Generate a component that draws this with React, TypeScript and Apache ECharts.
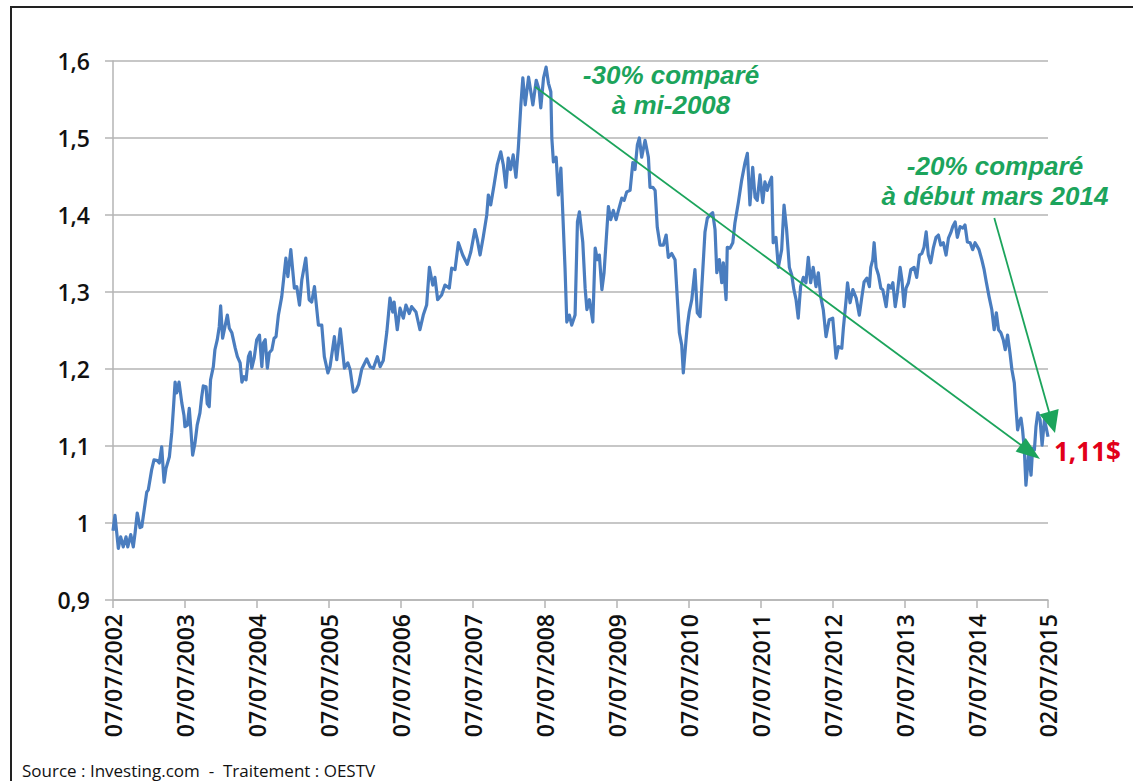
import React, { useEffect, useRef } from "react";
import * as echarts from "echarts";

// Weekly-ish EUR/USD readings, 07/07/2002 – 02/07/2015
const dates = [
  "2002-07-07","2002-07-17","2002-08-03","2002-08-15","2002-08-28","2002-09-11","2002-09-20","2002-10-05","2002-10-18","2002-10-27",
  "2002-11-07","2002-11-21","2002-11-30","2002-12-25","2003-01-02","2003-01-19","2003-01-31","2003-02-17","2003-02-27","2003-03-11",
  "2003-03-23","2003-04-02","2003-04-19","2003-05-01","2003-05-09","2003-05-18","2003-05-26","2003-06-07","2003-06-21","2003-07-02",
  "2003-07-07","2003-07-19","2003-07-29","2003-08-05","2003-08-15","2003-08-27","2003-09-07","2003-09-21","2003-09-30","2003-10-08",
  "2003-10-22","2003-10-28","2003-11-07","2003-11-14","2003-11-28","2003-12-06","2003-12-18","2003-12-28","2004-01-04","2004-01-14",
  "2004-01-26","2004-02-07","2004-02-17","2004-03-01","2004-03-18","2004-03-29","2004-04-12","2004-04-21","2004-05-02","2004-05-12",
  "2004-05-24","2004-06-02","2004-06-10","2004-06-22","2004-07-05","2004-07-19","2004-07-31","2004-08-08","2004-08-17","2004-08-28",
  "2004-09-07","2004-09-20","2004-10-01","2004-10-11","2004-10-23","2004-11-09","2004-11-30","2004-12-10","2004-12-25","2005-01-12",
  "2005-01-24","2005-02-07","2005-02-19","2005-03-11","2005-03-28","2005-04-10","2005-04-24","2005-05-14","2005-05-31","2005-06-13",
  "2005-07-01","2005-07-12","2005-08-03","2005-08-15","2005-09-02","2005-09-23","2005-10-10","2005-10-22","2005-11-07","2005-11-21",
  "2005-12-04","2005-12-20","2006-01-14","2006-01-31","2006-02-17","2006-03-09","2006-03-23","2006-04-08","2006-04-26","2006-05-12",
  "2006-05-26","2006-06-02","2006-06-18","2006-07-02","2006-07-19","2006-08-01","2006-08-18","2006-08-30","2006-09-21","2006-10-11",
  "2006-10-28","2006-11-14","2006-11-28","2006-12-15","2006-12-26","2007-01-09","2007-01-29","2007-02-15","2007-03-09","2007-03-21",
  "2007-04-07","2007-04-24","2007-05-16","2007-06-08","2007-06-26","2007-07-17","2007-07-29","2007-08-12","2007-08-28","2007-09-15",
  "2007-09-23","2007-10-05","2007-10-22","2007-11-07","2007-11-25","2007-12-08","2007-12-21","2008-01-02","2008-01-14","2008-01-27",
  "2008-02-10","2008-02-22","2008-03-06","2008-03-16","2008-03-28","2008-04-14","2008-05-06","2008-05-23","2008-06-07","2008-06-15",
  "2008-06-29","2008-07-12","2008-07-24","2008-08-05","2008-08-10","2008-08-18","2008-09-01","2008-09-12","2008-09-25","2008-10-05",
  "2008-10-16","2008-10-25","2008-11-07","2008-11-19","2008-12-06","2008-12-18","2008-12-28","2009-01-14","2009-01-26","2009-02-04",
  "2009-02-17","2009-03-06","2009-03-18","2009-03-29","2009-04-08","2009-04-21","2009-05-02","2009-05-12","2009-05-24","2009-06-05",
  "2009-06-18","2009-07-02","2009-07-14","2009-07-31","2009-08-12","2009-08-25","2009-09-11","2009-09-25","2009-10-06","2009-10-18",
  "2009-10-28","2009-11-09","2009-11-26","2009-12-13","2009-12-21","2010-01-04","2010-01-16","2010-01-27","2010-02-10","2010-02-27",
  "2010-03-13","2010-03-24","2010-04-10","2010-04-27","2010-05-09","2010-05-19","2010-05-31","2010-06-08","2010-06-22","2010-06-28",
  "2010-07-08","2010-07-21","2010-08-06","2010-08-18","2010-09-01","2010-09-15","2010-09-26","2010-10-08","2010-10-22","2010-11-04",
  "2010-11-16","2010-11-25","2010-12-08","2010-12-20","2010-12-28","2011-01-11","2011-01-17","2011-01-31","2011-02-14","2011-02-25",
  "2011-03-14","2011-03-31","2011-04-17","2011-04-29","2011-05-12","2011-05-26","2011-06-07","2011-06-18","2011-07-02","2011-07-16",
  "2011-07-27","2011-08-08","2011-08-18","2011-08-30","2011-09-07","2011-09-21","2011-10-03","2011-10-20","2011-11-01","2011-11-14",
  "2011-11-28","2011-12-10","2011-12-21","2012-01-01","2012-01-12","2012-01-24","2012-02-07","2012-02-20","2012-03-03","2012-03-15",
  "2012-03-28","2012-04-11","2012-04-23","2012-05-05","2012-05-18","2012-06-01","2012-06-17","2012-07-05","2012-07-22","2012-08-03",
  "2012-08-20","2012-08-28","2012-09-11","2012-09-18","2012-10-01","2012-10-15","2012-11-01","2012-11-17","2012-11-30","2012-12-11",
  "2012-12-25","2013-01-07","2013-01-14","2013-01-24","2013-01-31","2013-02-10","2013-02-22","2013-03-06","2013-03-16","2013-04-02",
  "2013-04-14","2013-04-26","2013-05-06","2013-05-18","2013-05-29","2013-06-12","2013-06-21","2013-07-02","2013-07-12","2013-07-24",
  "2013-08-05","2013-08-22","2013-09-04","2013-09-18","2013-09-30","2013-10-11","2013-10-22","2013-11-02","2013-11-14","2013-11-28",
  "2013-12-11","2013-12-23","2014-01-04","2014-01-17","2014-01-31","2014-02-12","2014-02-24","2014-03-06","2014-03-18","2014-03-29",
  "2014-04-12","2014-04-26","2014-05-07","2014-05-19","2014-06-02","2014-06-15","2014-06-27","2014-07-04","2014-07-17","2014-07-31",
  "2014-08-12","2014-08-23","2014-09-06","2014-09-20","2014-10-02","2014-10-13","2014-10-24","2014-11-05","2014-11-17","2014-11-27",
  "2014-12-09","2014-12-21","2014-12-31","2015-01-12","2015-01-20","2015-01-29","2015-02-06","2015-02-15","2015-02-23","2015-03-04",
  "2015-03-12","2015-03-26","2015-04-07","2015-04-15","2015-04-24","2015-05-02","2015-05-11","2015-05-23","2015-06-02","2015-06-14",
  "2015-06-22","2015-07-02"
];

const eurUsd = [
  0.99,1.01,0.967,0.982,0.969,0.982,0.969,0.985,0.969,0.987,
  1.013,0.994,0.995,1.04,1.043,1.069,1.082,1.081,1.078,1.099,
  1.053,1.071,1.086,1.117,1.147,1.183,1.169,1.183,1.156,1.14,
  1.125,1.127,1.149,1.125,1.088,1.104,1.127,1.143,1.164,1.178,
  1.177,1.155,1.151,1.186,1.203,1.225,1.238,1.255,1.282,1.24,
  1.255,1.27,1.253,1.247,1.227,1.216,1.208,1.183,1.19,1.186,
  1.216,1.222,1.201,1.214,1.238,1.244,1.203,1.234,1.238,1.201,
  1.221,1.225,1.24,1.242,1.27,1.294,1.344,1.32,1.355,1.305,
  1.307,1.283,1.316,1.344,1.29,1.287,1.307,1.257,1.257,1.216,
  1.195,1.203,1.242,1.212,1.252,1.201,1.208,1.199,1.17,1.172,
  1.18,1.2,1.213,1.203,1.201,1.216,1.203,1.211,1.248,1.292,
  1.274,1.287,1.251,1.279,1.266,1.283,1.272,1.281,1.274,1.251,
  1.27,1.283,1.332,1.309,1.319,1.29,1.296,1.309,1.305,1.331,
  1.329,1.364,1.348,1.336,1.352,1.381,1.368,1.348,1.371,1.4,
  1.426,1.413,1.439,1.465,1.482,1.465,1.436,1.474,1.459,1.478,
  1.449,1.487,1.543,1.578,1.543,1.579,1.543,1.575,1.562,1.539,
  1.578,1.592,1.571,1.56,1.5,1.469,1.475,1.426,1.461,1.4,
  1.331,1.261,1.27,1.257,1.27,1.391,1.404,1.365,1.305,1.277,
  1.29,1.261,1.357,1.342,1.348,1.303,1.325,1.364,1.411,1.394,
  1.406,1.394,1.406,1.422,1.419,1.43,1.432,1.468,1.459,1.491,
  1.5,1.475,1.497,1.475,1.436,1.436,1.432,1.384,1.361,1.361,
  1.374,1.345,1.35,1.342,1.29,1.247,1.231,1.195,1.238,1.255,
  1.274,1.29,1.329,1.273,1.268,1.329,1.378,1.396,1.4,1.403,
  1.381,1.325,1.342,1.312,1.338,1.29,1.358,1.357,1.364,1.39,
  1.416,1.445,1.468,1.48,1.413,1.462,1.423,1.419,1.452,1.416,
  1.443,1.432,1.441,1.449,1.364,1.371,1.332,1.355,1.413,1.381,
  1.332,1.322,1.303,1.29,1.266,1.307,1.319,1.312,1.345,1.312,
  1.332,1.307,1.325,1.294,1.277,1.242,1.264,1.266,1.214,1.229,
  1.227,1.253,1.29,1.312,1.286,1.303,1.292,1.27,1.294,1.313,
  1.318,1.307,1.332,1.342,1.364,1.332,1.322,1.305,1.303,1.281,
  1.309,1.305,1.312,1.281,1.299,1.332,1.316,1.281,1.305,1.312,
  1.329,1.332,1.319,1.348,1.35,1.358,1.378,1.348,1.338,1.358,
  1.371,1.374,1.361,1.364,1.348,1.37,1.377,1.385,1.391,1.371,
  1.385,1.383,1.387,1.365,1.364,1.355,1.364,1.361,1.355,1.342,
  1.329,1.313,1.294,1.277,1.251,1.273,1.251,1.247,1.238,1.225,
  1.244,1.221,1.199,1.182,1.151,1.121,1.131,1.136,1.121,1.095,
  1.049,1.091,1.062,1.097,1.095,1.125,1.143,1.134,1.101,1.134,
  1.125,1.112
];

const tickDates = [
  "2002-07-07","2003-07-07","2004-07-07","2005-07-07","2006-07-07","2007-07-07","2008-07-07",
  "2009-07-07","2010-07-07","2011-07-07","2012-07-07","2013-07-07","2014-07-07","2015-07-02"
];

const yMin = 0.9;
const yMax = 1.6;
const yStep = 0.1;

const note1Lines = ["-30% comparé", "à mi-2008"];
const note2Lines = ["-20% comparé", "à début mars 2014"];
const lastLabel = "1,11$";
const sourceText = "Source : Investing.com  -  Traitement : OESTV";

const BLUE = "#4a7dbf";
const GREEN = "#1ca45c";
const GRID = "#b4b4b4";
const FONT = "'Open Sans', 'Noto Sans', sans-serif";
const NOTE_FONT = "'Liberation Sans', Arial, sans-serif";

function toTs(s: string): number {
  const [y, m, d] = s.split("-").map(Number);
  return Date.UTC(y, m - 1, d);
}

function pad(n: number) {
  return n < 10 ? "0" + n : "" + n;
}

function arrow(x1: number, y1: number, x2: number, y2: number, len: number, w: number) {
  const dx = x2 - x1;
  const dy = y2 - y1;
  const L = Math.sqrt(dx * dx + dy * dy);
  const ux = dx / L;
  const uy = dy / L;
  const bx = x2 - ux * len;
  const by = y2 - uy * len;
  const px = -uy * (w / 2);
  const py = ux * (w / 2);
  return [
    {
      type: "line",
      shape: { x1, y1, x2: bx + ux * 2, y2: by + uy * 2 },
      style: { stroke: GREEN, lineWidth: 1.8 },
      z: 10,
    },
    {
      type: "polygon",
      shape: {
        points: [
          [x2, y2],
          [bx + px, by + py],
          [bx - px, by - py],
        ],
      },
      style: { fill: GREEN },
      z: 10,
    },
  ];
}

function noteText(text: string, x: number, y: number, size: number) {
  return {
    type: "text",
    x,
    y,
    style: {
      text,
      fill: GREEN,
      font: "italic bold " + size + "px " + NOTE_FONT,
      align: "center",
      verticalAlign: "middle",
    },
    z: 11,
  };
}

export default function App() {
  const ref = useRef<HTMLDivElement>(null);

  useEffect(() => {
    if (!ref.current) return;
    const chart = echarts.init(ref.current, null, { renderer: "svg" });
    const seriesData = dates.map((d, i) => [toTs(d), eurUsd[i]]);
    const ticks = tickDates.map(toTs);

    chart.setOption({
      animation: false,
      backgroundColor: "#ffffff",
      grid: { left: 113, right: 85, top: 61, bottom: 181, containLabel: false },
      xAxis: {
        type: "value",
        min: ticks[0],
        max: ticks[ticks.length - 1],
        scale: true,
        axisLine: { show: true, lineStyle: { color: GRID, width: 1.5 } },
        axisTick: { show: true, length: 8, customValues: ticks, lineStyle: { color: GRID, width: 1.5 } },
        splitLine: { show: false },
        minorTick: { show: false },
        axisLabel: {
          customValues: ticks,
          rotate: 90,
          margin: 14,
          fontFamily: FONT,
          fontSize: 23,
          fontWeight: 600,
          color: "#111111",
          formatter: (v: number) => {
            const d = new Date(v);
            return pad(d.getUTCDate()) + "/" + pad(d.getUTCMonth() + 1) + "/" + d.getUTCFullYear();
          },
        },
      },
      yAxis: {
        type: "value",
        min: yMin,
        max: yMax,
        interval: yStep,
        axisLine: { show: true, lineStyle: { color: GRID, width: 1.5 } },
        axisTick: { show: true, length: 8, lineStyle: { color: GRID, width: 1.5 } },
        splitLine: { show: true, lineStyle: { color: GRID, width: 1.5 } },
        axisLabel: {
          margin: 23,
          fontFamily: FONT,
          fontSize: 23,
          fontWeight: 600,
          color: "#111111",
          formatter: (v: number) => {
            const r = Math.round(v * 10) / 10;
            return r === 1 ? "1" : r.toFixed(1).replace(".", ",");
          },
        },
      },
      series: [
        {
          type: "line",
          data: seriesData,
          showSymbol: false,
          symbol: "none",
          lineStyle: { color: BLUE, width: 3.2, join: "round" },
          itemStyle: { color: BLUE },
          z: 3,
        },
      ],
      graphic: [
        {
          type: "rect",
          shape: { x: 11, y: 7, width: 1300, height: 900 },
          style: { fill: "none", stroke: "#222222", lineWidth: 2 },
          silent: true,
        },
        ...arrow(535, 86.7, 1040, 459, 24, 17),
        ...arrow(994.3, 218, 1055, 433, 22, 20),
        noteText(note1Lines[0], 671, 75, 26),
        noteText(note1Lines[1], 671, 105, 26),
        noteText(note2Lines[0], 995, 165.5, 26),
        noteText(note2Lines[1], 995, 195.5, 26),
        {
          type: "text",
          x: 1054,
          y: 451,
          style: {
            text: lastLabel,
            fill: "#e2001a",
            font: "bold 26px " + FONT,
            align: "left",
            verticalAlign: "middle",
          },
          z: 11,
        },
        {
          type: "text",
          x: 22,
          y: 770,
          style: {
            text: sourceText,
            fill: "#111111",
            font: "17px " + FONT,
            align: "left",
            verticalAlign: "middle",
          },
          z: 11,
        },
      ],
    });

    return () => chart.dispose();
  }, []);

  return (
    <div
      ref={ref}
      style={{ position: "fixed", left: 0, top: 0, width: 1133, height: 781, background: "#fff" }}
    />
  );
}
